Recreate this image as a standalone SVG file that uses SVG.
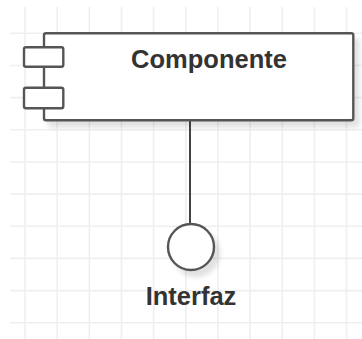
<svg xmlns="http://www.w3.org/2000/svg" width="362" height="339" viewBox="0 0 362 339">
  <style>
    .grid { stroke: #efefef; stroke-width: 1.6; fill: none; }
    .shape { fill: #ffffff; stroke: #555555; stroke-width: 2.4; }
    .conn { stroke: #444444; stroke-width: 2; fill: none; }
    .label { font-family: "Liberation Sans", Arial, Helvetica, sans-serif; font-weight: bold; font-size: 25.5px; fill: #333333; text-anchor: middle; }
  </style>
  <defs>
    <filter id="shadow" x="-20%" y="-20%" width="150%" height="160%">
      <feGaussianBlur in="SourceAlpha" stdDeviation="2.5"/>
      <feOffset dx="5" dy="6" result="b"/>
      <feComponentTransfer><feFuncA type="linear" slope="0.12"/></feComponentTransfer>
      <feMerge><feMergeNode/><feMergeNode in="SourceGraphic"/></feMerge>
    </filter>
  </defs>
  <rect width="362" height="339" fill="#ffffff"/>
  <g id="grid">
    <path class="grid" d="M10 33.3H362 M10 65.5H362 M10 97.6H362 M10 129.8H362 M10 162H362 M10 194.1H362 M10 226.3H362 M10 258.4H362 M10 290.6H362 M10 322.7H362"/>
    <path class="grid" d="M25 7V339 M57.2 7V339 M89.3 7V339 M121.5 7V339 M153.6 7V339 M185.8 7V339 M217.9 7V339 M250.1 7V339 M282.2 7V339 M314.4 7V339 M346.5 7V339"/>
  </g>
  <g id="connectors">
    <line class="conn" x1="190" y1="121" x2="190" y2="224"/>
  </g>
  <g id="componente">
    <rect class="shape" x="44" y="33.3" width="309.3" height="87" rx="2" filter="url(#shadow)"/>
    <rect class="shape" x="24" y="47.3" width="39.3" height="19.4" rx="2"/>
    <rect class="shape" x="24" y="87.7" width="39.3" height="20.6" rx="2"/>
    <text class="label" x="209" y="67.5">Componente</text>
  </g>
  <g id="interfaz">
    <circle class="shape" cx="191" cy="247" r="23" stroke="#333333" stroke-width="2" filter="url(#shadow)"/>
    <text class="label" x="191" y="305">Interfaz</text>
  </g>
</svg>
